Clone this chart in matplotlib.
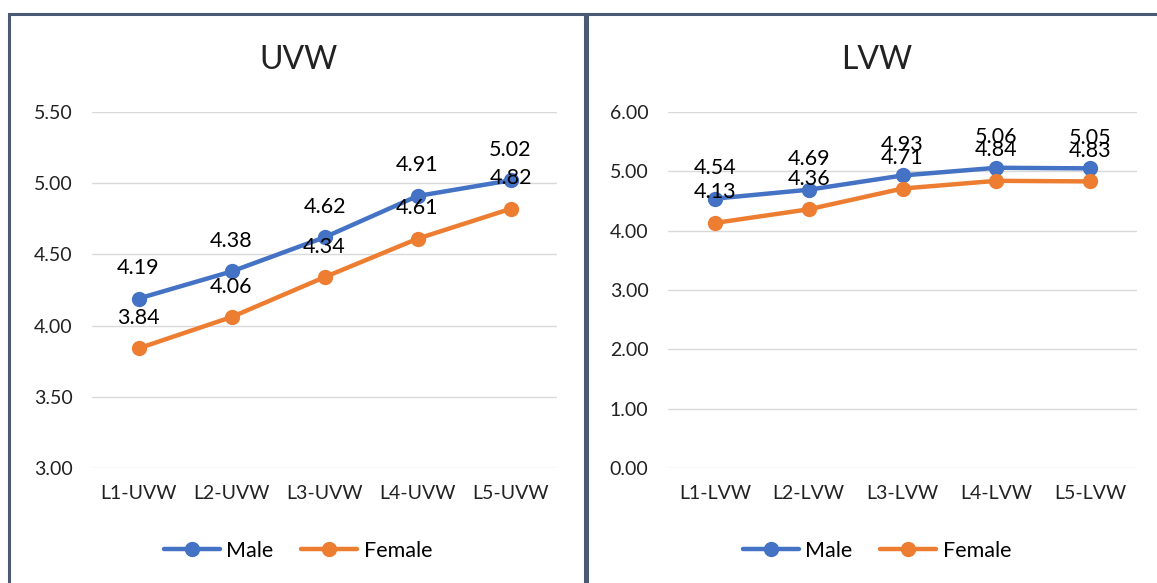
import matplotlib
matplotlib.use("Agg")
import matplotlib.pyplot as plt
from matplotlib.patches import Rectangle

plt.rcParams['font.family'] = ['Lato', 'DejaVu Sans']

# data
uvw_cats = ['L1-UVW', 'L2-UVW', 'L3-UVW', 'L4-UVW', 'L5-UVW']
uvw_male = [4.19, 4.38, 4.62, 4.91, 5.02]
uvw_female = [3.84, 4.06, 4.34, 4.61, 4.82]

lvw_cats = ['L1-LVW', 'L2-LVW', 'L3-LVW', 'L4-LVW', 'L5-LVW']
lvw_male = [4.54, 4.69, 4.93, 5.06, 5.05]
lvw_female = [4.13, 4.36, 4.71, 4.84, 4.83]

BLUE = '#4472C4'
ORANGE = '#ED7D31'
BORDER = '#4A5A74'

W, H = 1157, 583
fig = plt.figure(figsize=(W / 100, H / 100), dpi=100)


def px(x0, y0, x1, y1):
    # pixel box -> figure fraction [left, bottom, width, height]
    return [x0 / W, 1 - y1 / H, (x1 - x0) / W, (y1 - y0) / H]


def panel(box, cats, male, female, ylim, yticks, title, cx):
    ax = fig.add_axes(px(*box))
    x = range(len(cats))
    for vals, col, name in [(male, BLUE, 'Male'), (female, ORANGE, 'Female')]:
        ax.plot(x, vals, color=col, lw=3.2, marker='o', ms=10, label=name,
                solid_capstyle='round', zorder=3)
        for xi, v in zip(x, vals):
            ax.annotate('%.2f' % v, (xi, v), xytext=(0, 22), textcoords='offset points',
                        ha='center', va='center', fontsize=15.5, color='#000000', zorder=4)
    ax.set_xlim(-0.5, len(cats) - 0.5)
    ax.set_ylim(*ylim)
    ax.set_yticks(yticks)
    ax.set_yticklabels(['%.2f' % t for t in yticks])
    ax.set_xticks(list(x))
    ax.set_xticklabels(cats)
    ax.tick_params(length=0, labelsize=14, colors='#222222')
    ax.tick_params(axis='y', pad=14)
    ax.tick_params(axis='x', pad=12)
    for s in ax.spines.values():
        s.set_visible(False)
    ax.grid(axis='y', color='#D9D9D9', lw=1)
    ax.set_axisbelow(True)
    fig.text(cx / W, 1 - 60 / H, title, ha='center', va='center', fontsize=23, color='#222222')
    fig.legend(handles=ax.get_lines(), loc='center', bbox_to_anchor=(cx / W, 1 - 551 / H),
               ncol=2, frameon=False, fontsize=15.5, handlelength=2.6, columnspacing=1.3,
               handletextpad=0.3, markerscale=1.0)
    return ax


panel((92, 112, 557, 468), uvw_cats, uvw_male, uvw_female, (3.0, 5.5),
      [3.0, 3.5, 4.0, 4.5, 5.0, 5.5], 'UVW', 298)
panel((668, 112, 1137, 468), lvw_cats, lvw_male, lvw_female, (0.0, 6.0),
      [0, 1, 2, 3, 4, 5, 6], 'LVW', 877)

# chart borders
for x0, x1 in [(9, 585), (587, 1165)]:
    fig.add_artist(Rectangle((x0 / W, -0.05), (x1 - x0) / W, 1.05 - 14 / H,
                             transform=fig.transFigure, fill=False,
                             edgecolor=BORDER, lw=2.2, clip_on=False))

fig.savefig('out.png', dpi=100)
